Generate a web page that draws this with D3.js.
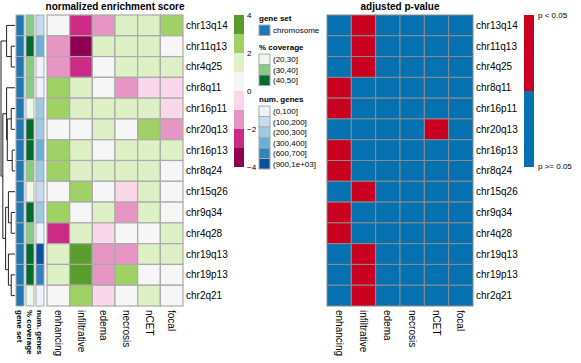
<!DOCTYPE html>
<html>
<head>
<meta charset="utf-8">
<script src="https://cdn.jsdelivr.net/npm/d3@7"></script>
<style>
  body { margin: 0; background: #fff; }
  text { font-family: "Liberation Sans", Arial, Helvetica, sans-serif; fill: #000; }
</style>
</head>
<body>
<script>
// gene set enrichment heatmaps (NES + adjusted p)

var rows = ['chr13q14','chr11q13','chr4q25','chr8q11','chr16p11','chr20q13','chr16p13',
            'chr8q24','chr15q26','chr9q34','chr4q28','chr19q13','chr19p13','chr2q21'];
var cols = ['enhancing','infiltrative','edema','necrosis','nCET','focal'];

// normalized enrichment score, one row per region
var nes = [
  [ 0.3,-2.6,-1.5, 1.3, 1.5, 2.4],
  [-1.7,-3.5, 1.2, 1.4, 1.1, 0.5],
  [-1.4,-2.7, 0.6, 1.3, 1.6, 1.2],
  [ 2.6, 1.4, 0.2,-1.6,-0.7,-0.5],
  [ 2.5, 1.3, 1.5, 1.2, 1.4,-0.6],
  [ 0.4, 0.7, 1.3, 0.5, 2.3,-1.5],
  [ 2.7, 1.5, 0.3, 1.2, 1.6, 1.1],
  [ 2.4, 1.2, 1.4, 1.3, 1.5, 0.6],
  [ 0.5, 2.2, 0.4,-0.5, 1.3, 0.6],
  [ 2.5, 0.8, 1.1,-1.5, 1.4, 0.4],
  [-2.6, 1.3,-0.7, 0.2, 0.5, 1.2],
  [ 1.4, 3.3,-1.6,-1.4, 1.2, 1.3],
  [ 1.2, 3.4,-1.5, 2.3, 0.6, 0.3],
  [ 0.5, 2.6,-0.6, 0.4, 1.5, 0.7]
];

// adjusted p-values
var padj = [
  [0.40,0.01,0.30,0.50,0.60,0.20],
  [0.30,0.01,0.50,0.40,0.60,0.70],
  [0.35,0.02,0.60,0.50,0.40,0.50],
  [0.02,0.40,0.70,0.30,0.60,0.50],
  [0.03,0.50,0.40,0.60,0.50,0.40],
  [0.60,0.50,0.40,0.70,0.03,0.30],
  [0.02,0.40,0.60,0.50,0.40,0.60],
  [0.01,0.50,0.40,0.50,0.60,0.70],
  [0.50,0.04,0.60,0.40,0.50,0.60],
  [0.02,0.60,0.50,0.30,0.50,0.70],
  [0.03,0.50,0.60,0.70,0.60,0.40],
  [0.40,0.01,0.30,0.30,0.50,0.50],
  [0.50,0.01,0.30,0.20,0.60,0.60],
  [0.60,0.02,0.50,0.70,0.50,0.60]
];

var geneSet = rows.map(function(){ return 'chromosome'; });
var coverage = [35,45,38,33,25,44,42,36,28,46,37,48,43,24];
var numGenes = [150,350,80,60,250,270,330,220,180,240,90,950,650,40];

var covLabels = ['(20,30]','(30,40]','(40,50]'];
var geneLabels = ['(0,100]','(100,200]','(200,300]','(300,400]','(600,700]','(900,1e+03]'];
var nesTicks = [4,2,0,-2,-4];

// row dendrogram: leaves are row indexes, h is merge height
var tree = {h:1.0, c:[
  {h:0.6, c:[0, {h:0.27, c:[1,2]}]},
  {h:0.87, c:[
    {h:0.6, c:[3, {h:0.55, c:[{h:0.27, c:[4,5]}, {h:0.2, c:[6,7]}]}]},
    {h:0.67, c:[
      {h:0.47, c:[8, {h:0.27, c:[9,10]}]},
      {h:0.47, c:[11, {h:0.27, c:[12,13]}]}
    ]}
  ]}
]};

var W = 581, H = 363;
var svg = d3.select('body').append('svg').attr('width', W).attr('height', H);

var y = d3.scaleBand().domain(rows).range([15, 306]);
var x1 = d3.scaleBand().domain(cols).range([47, 183]);
var x2 = d3.scaleBand().domain(cols).range([327, 473]);

var nesColors = ['#8e0152','#cb2a85','#e796c4','#fbd7ea','#f6f6f6','#def1c6','#a0d165','#589d2d'];
var nesScale = d3.scaleQuantize().domain([-4,4]).range(nesColors);
var covScale = d3.scaleThreshold().domain([30,40]).range(['#edf8e9','#88cc84','#006d2c']);
var geneScale = d3.scaleThreshold().domain([100,200,300,400,700])
  .range(['#eff3ff','#c6dbef','#9ecae1','#6baed6','#3182bd','#08519c']);
var pColor = function(p){ return p < 0.05 ? '#ca0020' : '#0571b0'; };

// ---- heatmap 1
var cells = [];
rows.forEach(function(r,i){ cols.forEach(function(c,j){ cells.push({r:r, c:c, v:nes[i][j], p:padj[i][j]}); }); });

var g1 = svg.append('g');
g1.selectAll('rect.nes').data(cells).enter().append('rect')
  .attr('class','nes')
  .attr('x', function(d){ return x1(d.c); })
  .attr('y', function(d){ return y(d.r); })
  .attr('width', x1.bandwidth())
  .attr('height', y.bandwidth())
  .attr('fill', function(d){ return nesColors.indexOf(nesScale(d.v)) >= 0 ? nesScale(d.v) : '#fff'; })
  .attr('stroke', '#aaaaaa')
  .attr('stroke-width', 1.2);

// annotations
var ann = [
  {name:'gene set', x:16, color:function(i){ return '#1f78b4'; }},
  {name:'% coverage', x:26, color:function(i){ return covScale(coverage[i]); }},
  {name:'num. genes', x:36, color:function(i){ return geneScale(numGenes[i]); }}
];
ann.forEach(function(a){
  g1.selectAll(null).data(rows).enter().append('rect')
    .attr('x', a.x).attr('y', function(r){ return y(r); })
    .attr('width', 8).attr('height', y.bandwidth())
    .attr('fill', function(r,i){ return a.color(i); })
    .attr('stroke', '#aaaaaa').attr('stroke-width', 1);
  g1.append('text')
    .attr('transform', 'translate(' + (a.x + 4) + ',310) rotate(90)')
    .attr('dy', '0.35em')
    .style('font-size', '8px').style('font-weight', 'bold')
    .text(a.name);
});

g1.selectAll('text.rl').data(rows).enter().append('text')
  .attr('class','rl')
  .attr('x', 186).attr('y', function(r){ return y(r) + y.bandwidth()/2; })
  .attr('dy', '0.35em').style('font-size', '10px').text(function(r){ return r; });

g1.selectAll('text.cl').data(cols).enter().append('text')
  .attr('class','cl')
  .attr('transform', function(c){ return 'translate(' + (x1(c) + x1.bandwidth()/2) + ',310) rotate(90)'; })
  .attr('dy', '0.35em').style('font-size', '10px').text(function(c){ return c; });

svg.append('text').attr('x', 115).attr('y', 10).attr('text-anchor','middle')
  .style('font-size','10px').style('font-weight','bold').text('normalized enrichment score');

// dendrogram
var xD = d3.scaleLinear().domain([0,1]).range([15,1]);
function place(n){
  if (typeof n === 'number') return {x: xD(0), y: y(rows[n]) + y.bandwidth()/2};
  var kids = n.c.map(place);
  var node = {x: xD(n.h), y: (kids[0].y + kids[1].y)/2};
  kids.forEach(function(k){
    svg.append('line').attr('x1', node.x).attr('x2', k.x).attr('y1', k.y).attr('y2', k.y)
      .attr('stroke','#222').attr('stroke-width',1);
  });
  svg.append('line').attr('x1', node.x).attr('x2', node.x).attr('y1', kids[0].y).attr('y2', kids[1].y)
    .attr('stroke','#222').attr('stroke-width',1);
  return node;
}
place(tree);

// NES colour bar
var cb = svg.append('g');
var yb = d3.scaleLinear().domain([-4,4]).range([167,15]);
cb.selectAll('rect').data(nesColors).enter().append('rect')
  .attr('x', 234).attr('width', 10)
  .attr('y', function(c,i){ return yb(-4 + (i+1)); })
  .attr('height', function(c,i){ return yb(-4 + i) - yb(-4 + i + 1); })
  .attr('fill', function(c){ return c; });
cb.selectAll('text').data(nesTicks).enter().append('text')
  .attr('x', 247).attr('y', function(t){ return yb(t); })
  .attr('dy', '0.35em').style('font-size','8px').text(function(t){ return t === 0 ? '0' : (t < 0 ? '\u2212' + (-t) : t); });

// discrete legends
function legend(title, y0, labels, colors){
  var lg = svg.append('g');
  lg.append('text').attr('x', 259).attr('y', y0).style('font-size','8px').style('font-weight','bold').text(title);
  labels.forEach(function(l,i){
    lg.append('rect').attr('x', 259).attr('y', y0 + 4 + i*10.5).attr('width', 11).attr('height', 10.5)
      .attr('fill', colors[i]).attr('stroke','#aaaaaa').attr('stroke-width',1);
    lg.append('text').attr('x', 273).attr('y', y0 + 4 + i*10.5 + 5.25).attr('dy','0.35em')
      .style('font-size','8px').text(l);
  });
}
legend('gene set', 21, ['chromosome'], ['#1f78b4']);
legend('% coverage', 50, covLabels, covScale.range());
legend('num. genes', 102, geneLabels, geneScale.range());

// ---- heatmap 2
var g2 = svg.append('g');
g2.selectAll('rect').data(cells).enter().append('rect')
  .attr('x', function(d){ return x2(d.c); })
  .attr('y', function(d){ return y(d.r); })
  .attr('width', x2.bandwidth())
  .attr('height', y.bandwidth())
  .attr('fill', function(d){ return pColor(d.p); })
  .attr('stroke', '#8c8c8c').attr('stroke-width', 1);

g2.selectAll('text.rl').data(rows).enter().append('text')
  .attr('class','rl')
  .attr('x', 476).attr('y', function(r){ return y(r) + y.bandwidth()/2; })
  .attr('dy', '0.35em').style('font-size', '10px').text(function(r){ return r; });

g2.selectAll('text.cl').data(cols).enter().append('text')
  .attr('class','cl')
  .attr('transform', function(c){ return 'translate(' + (x2(c) + x2.bandwidth()/2) + ',310) rotate(90)'; })
  .attr('dy', '0.35em').style('font-size', '10px').text(function(c){ return c; });

svg.append('text').attr('x', 400).attr('y', 10).attr('text-anchor','middle')
  .style('font-size','10px').style('font-weight','bold').text('adjusted p-value');

// p legend
svg.append('rect').attr('x', 524).attr('y', 15).attr('width', 10).attr('height', 76).attr('fill', '#ca0020');
svg.append('rect').attr('x', 524).attr('y', 91).attr('width', 10).attr('height', 76).attr('fill', '#0571b0');
svg.append('text').attr('x', 538).attr('y', 18).style('font-size','8px').text('p < 0.05');
svg.append('text').attr('x', 538).attr('y', 169).style('font-size','8px').text('p >= 0.05');
</script>
</body>
</html>
